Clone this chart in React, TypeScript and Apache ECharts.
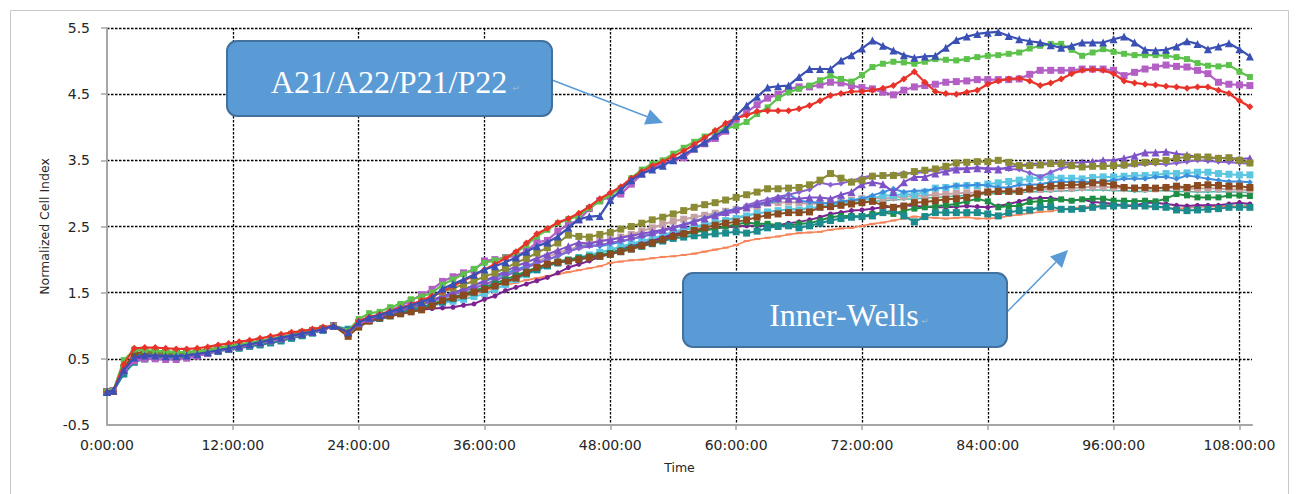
import React, { useEffect, useRef } from "react";
import * as echarts from "echarts";

// time in hours
const TIME_H = [0, 0.6, 1.6, 2.6, 3.6, 4.6, 5.6, 6.6, 7.6, 8.6, 9.6, 10.6, 11.6, 12.6, 13.6, 14.6, 15.6, 16.6, 17.6, 18.6, 19.6, 20.6, 21.6, 23,
  24, 25, 26, 27, 28, 29, 30, 31, 32, 33, 34, 35, 36, 37, 38, 39, 40, 41, 42, 43, 44, 45, 46, 47, 48, 49, 50, 51, 52, 53, 54, 55, 56, 57, 58, 59, 60,
  61, 62, 63, 64, 65, 66, 67, 68, 69, 70, 71, 72, 73, 74, 75, 76, 77, 78, 79, 80, 81, 82, 83, 84, 85, 86, 87, 88, 89, 90, 91, 92, 93, 94, 95, 96, 97, 98, 99, 100,
  101, 102, 103, 104, 105, 106, 107, 108, 109];

const X_LABELS = [0, 12, 24, 36, 48, 60, 72, 84, 96, 108];
const X_GRID = [12, 24, 36, 48, 60, 72, 84, 96, 108];
const Y_LABELS = [-0.5, 0.5, 1.5, 2.5, 3.5, 4.5, 5.5];
const Y_GRID = [0.5, 1.5, 2.5, 3.5, 4.5, 5.5];

const RED = [0, 0.01, 0.42, 0.66, 0.67, 0.67, 0.66, 0.65, 0.65, 0.66, 0.68, 0.71, 0.73, 0.76, 0.78, 0.81, 0.84, 0.87, 0.9, 0.92, 0.95, 0.98, 1.0,
  0.9,
  1.07, 1.13, 1.17, 1.22, 1.27, 1.32, 1.38, 1.45, 1.52, 1.6, 1.68, 1.76, 1.85, 1.93, 2.02, 2.12, 2.25, 2.39, 2.47, 2.56, 2.62, 2.7, 2.8, 2.92, 3.01, 3.1, 3.23, 3.33, 3.42, 3.48, 3.56, 3.64, 3.74, 3.84, 3.95, 4.06, 4.14,
  4.18, 4.24, 4.25, 4.25, 4.25, 4.28, 4.33, 4.40, 4.48, 4.51, 4.54, 4.54, 4.56, 4.59, 4.63, 4.73, 4.84, 4.68, 4.54, 4.51, 4.50, 4.53, 4.56, 4.65, 4.70, 4.73, 4.74, 4.70, 4.63, 4.67, 4.73, 4.81, 4.86, 4.87, 4.86, 4.81, 4.70, 4.67, 4.65, 4.64, 4.62, 4.61, 4.59, 4.61, 4.61, 4.56, 4.51, 4.40, 4.31];

const GREEN = [0, 0.02, 0.48, 0.64, 0.63, 0.62, 0.61, 0.6, 0.6, 0.61, 0.63, 0.66, 0.69, 0.72, 0.74, 0.77, 0.8, 0.83, 0.86, 0.89, 0.92, 0.96, 1.0,
  0.92,
  1.10, 1.19, 1.21, 1.28, 1.33, 1.40, 1.44, 1.5, 1.62, 1.7, 1.78, 1.86, 1.95, 1.99, 2.03, 2.1, 2.22, 2.35, 2.45, 2.55, 2.61, 2.66, 2.78, 2.88, 2.98, 3.08, 3.23, 3.36, 3.45, 3.5, 3.6, 3.69, 3.78, 3.86, 3.93, 3.98, 4.02,
  4.08, 4.20, 4.30, 4.44, 4.53, 4.58, 4.63, 4.71, 4.78, 4.73, 4.69, 4.79, 4.91, 4.96, 4.99, 4.98, 4.96, 4.99, 5.03, 5.02, 5.01, 5.03, 5.06, 5.08, 5.09, 5.11, 5.13, 5.19, 5.23, 5.26, 5.26, 5.17, 5.08, 5.13, 5.18, 5.14, 5.11, 5.09, 5.09, 5.09, 5.08, 5.06, 5.03, 4.97, 4.93, 4.92, 4.94, 4.84, 4.76];

const BLUE = [0, 0.02, 0.33, 0.52, 0.55, 0.55, 0.54, 0.54, 0.55, 0.57, 0.6, 0.63, 0.66, 0.69, 0.72, 0.75, 0.79, 0.82, 0.85, 0.88, 0.91, 0.95, 1.0,
  0.9,
  1.05, 1.12, 1.16, 1.21, 1.26, 1.31, 1.36, 1.42, 1.56, 1.63, 1.7, 1.77, 1.85, 1.9, 1.96, 2.03, 2.12, 2.2, 2.26, 2.35, 2.48, 2.61, 2.65, 2.66, 2.9, 3.05, 3.2, 3.3, 3.36, 3.42, 3.5, 3.58, 3.68, 3.77, 3.87, 3.97, 4.17,
  4.33, 4.46, 4.60, 4.62, 4.63, 4.76, 4.88, 4.88, 4.88, 5.01, 5.09, 5.19, 5.31, 5.23, 5.16, 5.09, 5.05, 5.07, 5.08, 5.20, 5.32, 5.37, 5.41, 5.43, 5.44, 5.38, 5.33, 5.30, 5.28, 5.24, 5.20, 5.23, 5.28, 5.28, 5.28, 5.33, 5.37, 5.28, 5.17, 5.16, 5.17, 5.22, 5.30, 5.26, 5.18, 5.22, 5.27, 5.18, 5.07];

const MAGENTA = [0, 0.02, 0.32, 0.47, 0.5, 0.5, 0.49, 0.49, 0.51, 0.54, 0.58, 0.62, 0.65, 0.68, 0.71, 0.74, 0.77, 0.8, 0.84, 0.87, 0.9, 0.94, 1.0,
  0.91,
  1.03, 1.1, 1.16, 1.23, 1.3, 1.38, 1.47, 1.55, 1.67, 1.74, 1.8, 1.84, 1.98, 2.0, 2.03, 2.06, 2.13, 2.26, 2.29, 2.43, 2.53, 2.6, 2.77, 2.89, 2.95, 2.99, 3.14, 3.29, 3.39, 3.45, 3.5, 3.54, 3.67, 3.75, 3.83, 3.94, 4.12,
  4.23, 4.34, 4.44, 4.50, 4.58, 4.61, 4.61, 4.64, 4.68, 4.67, 4.63, 4.60, 4.58, 4.53, 4.49, 4.56, 4.61, 4.63, 4.65, 4.68, 4.69, 4.70, 4.72, 4.72, 4.72, 4.72, 4.73, 4.80, 4.86, 4.86, 4.86, 4.86, 4.88, 4.88, 4.88, 4.86, 4.78, 4.83, 4.88, 4.91, 4.94, 4.92, 4.91, 4.86, 4.81, 4.68, 4.65, 4.64, 4.63];

const OLIVE = [0, 0.02, 0.35, 0.58, 0.6, 0.6, 0.59, 0.59, 0.6, 0.62, 0.64, 0.67, 0.69, 0.71, 0.74, 0.77, 0.8, 0.83, 0.87, 0.9, 0.93, 0.96, 1.0,
  0.88,
  1.05, 1.12, 1.17, 1.22, 1.26, 1.31, 1.37, 1.44, 1.51, 1.57, 1.62, 1.68, 1.74, 1.8, 1.87, 1.95, 2.02, 2.1, 2.18, 2.25, 2.37, 2.35, 2.34, 2.38, 2.41, 2.46, 2.5, 2.55, 2.6, 2.64, 2.69, 2.74, 2.79, 2.83, 2.86, 2.9, 2.94,
  2.98, 3.02, 3.07, 3.07, 3.08, 3.09, 3.13, 3.20, 3.30, 3.23, 3.17, 3.20, 3.26, 3.27, 3.27, 3.28, 3.33, 3.35, 3.37, 3.41, 3.46, 3.47, 3.48, 3.48, 3.50, 3.47, 3.42, 3.42, 3.43, 3.45, 3.45, 3.42, 3.40, 3.41, 3.41, 3.42, 3.43, 3.45, 3.47, 3.48, 3.50, 3.53, 3.55, 3.55, 3.55, 3.53, 3.54, 3.50, 3.46];

const VIOLET_TRI = [0, 0.02, 0.34, 0.53, 0.56, 0.56, 0.55, 0.55, 0.56, 0.58, 0.61, 0.64, 0.67, 0.7, 0.73, 0.76, 0.79, 0.82, 0.85, 0.88, 0.91, 0.95, 1.0,
  0.9,
  1.03, 1.09, 1.14, 1.19, 1.23, 1.28, 1.33, 1.39, 1.45, 1.5, 1.55, 1.61, 1.68, 1.75, 1.82, 1.9, 1.96, 2.02, 2.08, 2.14, 2.2, 2.26, 2.24, 2.28, 2.3, 2.33, 2.36, 2.39, 2.42, 2.45, 2.49, 2.53, 2.57, 2.62, 2.67, 2.72, 2.76,
  2.79, 2.84, 2.87, 2.93, 2.92, 2.92, 2.94, 2.94, 2.92, 2.98, 3.02, 3.14, 3.17, 3.14, 3.02, 3.17, 3.25, 3.25, 3.30, 3.33, 3.36, 3.37, 3.38, 3.37, 3.36, 3.40, 3.42, 3.45, 3.45, 3.46, 3.47, 3.46, 3.47, 3.48, 3.50, 3.50, 3.53, 3.57, 3.62, 3.62, 3.63, 3.60, 3.58, 3.55, 3.54, 3.53, 3.54, 3.52, 3.53];

const VIOLET_DIA = [0, 0.01, 0.31, 0.5, 0.54, 0.55, 0.54, 0.54, 0.55, 0.57, 0.6, 0.63, 0.66, 0.69, 0.72, 0.75, 0.78, 0.81, 0.84, 0.87, 0.9, 0.94, 1.0,
  0.9,
  1.02, 1.08, 1.13, 1.18, 1.22, 1.27, 1.32, 1.37, 1.42, 1.47, 1.52, 1.57, 1.62, 1.68, 1.75, 1.82, 1.88, 1.94, 2.0, 2.06, 2.12, 2.17, 2.2, 2.22, 2.25, 2.28, 2.31, 2.35, 2.38, 2.43, 2.48, 2.52, 2.57, 2.62, 2.66, 2.69, 2.73,
  2.82, 2.87, 2.91, 2.95, 2.98, 3.02, 3.06, 3.16, 3.13, 3.15, 3.19, 3.24, 3.27, 3.26, 3.29, 3.31, 3.30, 3.33, 3.35, 3.37, 3.38, 3.38, 3.39, 3.38, 3.38, 3.37, 3.36, 3.31, 3.25, 3.32, 3.38, 3.41, 3.40, 3.41, 3.42, 3.42, 3.41, 3.43, 3.44, 3.45, 3.44, 3.46, 3.48, 3.50, 3.49, 3.48, 3.47, 3.46, 3.45];

const LIGHT_BLUE = [0, 0.02, 0.3, 0.48, 0.52, 0.53, 0.52, 0.53, 0.54, 0.56, 0.59, 0.63, 0.66, 0.69, 0.72, 0.75, 0.78, 0.81, 0.84, 0.87, 0.9, 0.94, 1.0,
  0.92,
  1.02, 1.08, 1.12, 1.17, 1.22, 1.27, 1.32, 1.38, 1.44, 1.5, 1.55, 1.61, 1.67, 1.73, 1.79, 1.85, 1.9, 1.95, 2.0, 2.05, 2.12, 2.18, 2.22, 2.2, 2.23, 2.27, 2.31, 2.35, 2.39, 2.44, 2.48, 2.53, 2.58, 2.63, 2.68, 2.73, 2.77,
  2.79, 2.82, 2.86, 2.89, 2.99, 2.89, 2.87, 2.86, 2.84, 2.88, 2.89, 2.92, 2.97, 3.02, 3.07, 3.02, 3.04, 3.04, 3.07, 3.09, 3.12, 3.12, 3.13, 3.12, 3.09, 3.09, 3.13, 3.13, 3.14, 3.17, 3.18, 3.17, 3.18, 3.17, 3.18, 3.20, 3.22, 3.22, 3.22, 3.25, 3.25, 3.22, 3.27, 3.25, 3.22, 3.20, 3.18, 3.18, 3.17];

const CYAN = [0, 0.01, 0.28, 0.45, 0.5, 0.52, 0.52, 0.52, 0.53, 0.55, 0.58, 0.62, 0.65, 0.67, 0.69, 0.72, 0.75, 0.78, 0.82, 0.85, 0.89, 0.94, 1.0,
  0.95,
  1.05, 1.09, 1.13, 1.16, 1.2, 1.24, 1.28, 1.31, 1.34, 1.37, 1.4, 1.44, 1.48, 1.55, 1.62, 1.7, 1.77, 1.84, 1.9, 1.95, 1.99, 2.03, 2.07, 2.11, 2.15, 2.2, 2.24, 2.28, 2.32, 2.37, 2.42, 2.46, 2.5, 2.53, 2.56, 2.59, 2.62,
  2.66, 2.7, 2.72, 2.74, 2.76, 2.75, 2.77, 2.8, 2.82, 2.85, 2.88, 2.9, 2.92, 2.97, 2.97, 2.99, 2.98, 3.02, 3.08, 3.09, 3.11, 3.12, 3.12, 3.14, 3.16, 3.18, 3.20, 3.22, 3.24, 3.25, 3.23, 3.23, 3.22, 3.24, 3.25, 3.25, 3.26, 3.27, 3.27, 3.28, 3.30, 3.30, 3.31, 3.32, 3.32, 3.30, 3.29, 3.28, 3.28];

const BROWN = [0, 0.01, 0.36, 0.58, 0.61, 0.62, 0.61, 0.6, 0.6, 0.61, 0.63, 0.65, 0.68, 0.7, 0.72, 0.75, 0.78, 0.82, 0.85, 0.88, 0.91, 0.95, 1.0,
  0.84,
  0.98, 1.07, 1.12, 1.15, 1.18, 1.21, 1.24, 1.3, 1.38, 1.42, 1.46, 1.51, 1.55, 1.6, 1.66, 1.72, 1.8, 1.88, 1.93, 1.96, 1.98, 2.0, 2.03, 2.05, 2.08, 2.12, 2.16, 2.21, 2.25, 2.3, 2.35, 2.39, 2.44, 2.48, 2.52, 2.55, 2.57,
  2.60, 2.64, 2.67, 2.69, 2.71, 2.71, 2.72, 2.79, 2.80, 2.82, 2.84, 2.86, 2.88, 2.82, 2.79, 2.81, 2.86, 2.87, 2.89, 2.91, 2.92, 2.94, 2.99, 3.02, 3.03, 3.03, 3.03, 3.07, 3.09, 3.11, 3.12, 3.13, 3.13, 3.16, 3.16, 3.13, 3.09, 3.08, 3.09, 3.08, 3.09, 3.11, 3.09, 3.12, 3.13, 3.12, 3.11, 3.11, 3.09];

const ROSY = [0, 0.02, 0.33, 0.54, 0.57, 0.57, 0.56, 0.56, 0.57, 0.59, 0.62, 0.65, 0.68, 0.7, 0.73, 0.76, 0.79, 0.82, 0.85, 0.88, 0.91, 0.95, 1.0,
  0.9,
  1.02, 1.08, 1.13, 1.17, 1.22, 1.27, 1.32, 1.37, 1.42, 1.47, 1.52, 1.58, 1.63, 1.69, 1.76, 1.83, 1.9, 1.97, 2.04, 2.1, 2.15, 2.2, 2.25, 2.28, 2.3, 2.34, 2.38, 2.43, 2.48, 2.53, 2.58, 2.61, 2.64, 2.67, 2.7, 2.73, 2.76,
  2.78, 2.8, 2.85, 2.86, 2.87, 2.86, 2.84, 2.85, 2.86, 2.88, 2.9, 2.92, 2.93, 2.92, 2.94, 2.95, 2.96, 2.97, 2.98, 2.99, 3.0, 3.01, 3.01, 3.02, 3.03, 3.04, 3.05, 3.06, 3.06, 3.07, 3.08, 3.08, 3.09, 3.1, 3.1, 3.09, 3.08, 3.08, 3.07, 3.07, 3.08, 3.08, 3.07, 3.07, 3.08, 3.07, 3.06, 3.06, 3.05];

const LIGHT_TEAL = [0, 0.02, 0.32, 0.52, 0.55, 0.56, 0.55, 0.55, 0.56, 0.58, 0.61, 0.64, 0.67, 0.7, 0.72, 0.75, 0.78, 0.81, 0.84, 0.87, 0.9, 0.94, 1.0,
  0.93,
  1.03, 1.08, 1.12, 1.16, 1.2, 1.24, 1.28, 1.33, 1.38, 1.42, 1.46, 1.5, 1.55, 1.6, 1.66, 1.72, 1.78, 1.84, 1.9, 1.95, 1.99, 2.03, 2.07, 2.1, 2.14, 2.18, 2.22, 2.27, 2.31, 2.35, 2.4, 2.44, 2.48, 2.52, 2.56, 2.6, 2.64,
  2.67, 2.7, 2.72, 2.74, 2.76, 2.77, 2.78, 2.8, 2.82, 2.84, 2.85, 2.87, 2.88, 2.89, 2.9, 2.91, 2.92, 2.93, 2.94, 2.95, 2.96, 2.97, 2.98, 2.99, 3.0, 3.01, 3.01, 3.02, 3.03, 3.03, 3.04, 3.04, 3.05, 3.05, 3.05, 3.04, 3.04, 3.03, 3.03, 3.04, 3.04, 3.03, 3.03, 3.02, 3.02, 3.03, 3.02, 3.02, 3.01];

const DARK_GREEN = [0, 0.02, 0.34, 0.55, 0.58, 0.58, 0.57, 0.57, 0.58, 0.6, 0.62, 0.65, 0.68, 0.7, 0.73, 0.76, 0.79, 0.82, 0.85, 0.88, 0.91, 0.95, 1.0,
  0.91,
  1.0, 1.07, 1.12, 1.16, 1.2, 1.24, 1.28, 1.33, 1.38, 1.43, 1.48, 1.53, 1.58, 1.64, 1.7, 1.76, 1.82, 1.88, 1.93, 1.97, 2.0, 2.03, 2.05, 2.07, 2.1, 2.14, 2.18, 2.22, 2.26, 2.3, 2.35, 2.38, 2.41, 2.44, 2.47, 2.5, 2.53,
  2.56, 2.54, 2.54, 2.52, 2.51, 2.54, 2.55, 2.59, 2.64, 2.66, 2.66, 2.65, 2.69, 2.71, 2.69, 2.74, 2.77, 2.79, 2.81, 2.82, 2.84, 2.88, 2.92, 2.88, 2.79, 2.81, 2.81, 2.87, 2.88, 2.89, 2.91, 2.89, 2.91, 2.92, 2.92, 2.89, 2.89, 2.88, 2.89, 2.88, 2.92, 2.99, 2.97, 2.94, 2.94, 2.94, 2.97, 2.97, 2.96];

const DARK_PURPLE = [0, 0.02, 0.31, 0.5, 0.53, 0.54, 0.54, 0.54, 0.55, 0.57, 0.6, 0.63, 0.65, 0.67, 0.7, 0.73, 0.77, 0.8, 0.83, 0.87, 0.9, 0.94, 1.0,
  0.9,
  1.0, 1.06, 1.1, 1.14, 1.18, 1.21, 1.24, 1.26, 1.27, 1.28, 1.31, 1.33, 1.4, 1.45, 1.53, 1.58, 1.63, 1.68, 1.73, 1.8, 1.88, 1.93, 1.98, 2.04, 2.1, 2.15, 2.2, 2.24, 2.28, 2.33, 2.38, 2.41, 2.43, 2.45, 2.47, 2.49, 2.5,
  2.51, 2.51, 2.51, 2.52, 2.55, 2.57, 2.60, 2.64, 2.69, 2.71, 2.74, 2.75, 2.77, 2.79, 2.80, 2.82, 2.81, 2.80, 2.79, 2.79, 2.80, 2.81, 2.80, 2.79, 2.81, 2.84, 2.88, 2.92, 2.93, 2.93, 2.91, 2.89, 2.91, 2.87, 2.86, 2.84, 2.81, 2.81, 2.86, 2.86, 2.84, 2.82, 2.81, 2.82, 2.82, 2.82, 2.84, 2.86, 2.84];

const TEAL = [0, 0.01, 0.27, 0.45, 0.5, 0.52, 0.52, 0.52, 0.53, 0.55, 0.58, 0.61, 0.64, 0.66, 0.69, 0.71, 0.74, 0.77, 0.81, 0.85, 0.89, 0.93, 1.0,
  0.94,
  1.03, 1.08, 1.11, 1.15, 1.19, 1.23, 1.27, 1.31, 1.36, 1.41, 1.45, 1.5, 1.55, 1.61, 1.67, 1.73, 1.79, 1.85, 1.91, 1.95, 1.98, 2.01, 2.03, 2.05, 2.08, 2.12, 2.16, 2.2, 2.24, 2.28, 2.32, 2.34, 2.36, 2.37, 2.39, 2.4, 2.42,
  2.40, 2.43, 2.48, 2.50, 2.51, 2.48, 2.51, 2.55, 2.59, 2.62, 2.64, 2.65, 2.66, 2.71, 2.74, 2.66, 2.57, 2.65, 2.71, 2.71, 2.71, 2.71, 2.71, 2.69, 2.66, 2.71, 2.74, 2.75, 2.79, 2.80, 2.76, 2.76, 2.77, 2.79, 2.81, 2.81, 2.82, 2.81, 2.81, 2.80, 2.79, 2.75, 2.74, 2.75, 2.76, 2.77, 2.79, 2.79, 2.79];

const SALMON = [0, 0.01, 0.3, 0.5, 0.54, 0.55, 0.55, 0.55, 0.56, 0.58, 0.61, 0.64, 0.67, 0.69, 0.72, 0.75, 0.78, 0.81, 0.84, 0.87, 0.9, 0.94, 1.0,
  0.92,
  1.02, 1.06, 1.1, 1.14, 1.18, 1.22, 1.26, 1.3, 1.34, 1.38, 1.43, 1.48, 1.53, 1.57, 1.61, 1.65, 1.69, 1.72, 1.75, 1.78, 1.81, 1.84, 1.87, 1.9, 1.95, 1.97, 1.99, 2.0, 2.02, 2.04, 2.05, 2.07, 2.09, 2.12, 2.15, 2.18, 2.22,
  2.28, 2.31, 2.33, 2.35, 2.38, 2.40, 2.41, 2.42, 2.45, 2.47, 2.48, 2.51, 2.54, 2.56, 2.59, 2.62, 2.65, 2.64, 2.63, 2.62, 2.63, 2.64, 2.62, 2.62, 2.63, 2.66, 2.68, 2.7, 2.72, 2.73, 2.76, 2.78, 2.79, 2.8, 2.82, 2.83, 2.83, 2.82, 2.8, 2.79, 2.78, 2.77, 2.78, 2.79, 2.8, 2.8, 2.81, 2.81, 2.82];

// drawing order: first = bottom
const SERIES_DEFS: any[] = [
  { name: "S16", values: SALMON, color: "#F5845A", symbol: "rect", size: [6, 2], width: 1.6 },
  { name: "S15", values: LIGHT_TEAL, color: "#46B8A6", symbol: "circle", size: 3, width: 1.5 },
  { name: "S14", values: ROSY, color: "#C6A2A4", symbol: "rect", size: 7, width: 2 },
  { name: "S13", values: CYAN, color: "#5CC6E2", symbol: "rect", size: 7, width: 2 },
  { name: "S12", values: LIGHT_BLUE, color: "#3D8FDE", symbol: "diamond", size: 6, width: 2 },
  { name: "S11", values: VIOLET_DIA, color: "#8A63D2", symbol: "diamond", size: 6, width: 2 },
  { name: "S10", values: DARK_PURPLE, color: "#7B2390", symbol: "circle", size: 5, width: 2 },
  { name: "S9", values: DARK_GREEN, color: "#1F8E45", symbol: "rect", size: 6, width: 2 },
  { name: "S8", values: TEAL, color: "#1B8B8D", symbol: "rect", size: 7, width: 2 },
  { name: "S7", values: VIOLET_TRI, color: "#7D52C7", symbol: "triangle", size: 8, width: 2 },
  { name: "S6", values: OLIVE, color: "#8C8B35", symbol: "rect", size: 7, width: 2 },
  { name: "S5", values: BROWN, color: "#8A4B20", symbol: "rect", size: 7, width: 2 },
  { name: "S4", values: MAGENTA, color: "#B35FC5", symbol: "rect", size: 7, width: 2.2 },
  { name: "S3", values: GREEN, color: "#5DC24B", symbol: "rect", size: 6, width: 2.2 },
  { name: "S2", values: RED, color: "#E8332A", symbol: "diamond", size: 7, width: 2.2 },
  { name: "S1", values: BLUE, color: "#3A50B4", symbol: "triangle", size: 8, width: 2.2 },
];

const AXIS_GRAY = "#A6A6A6";
const TEXT_DARK = "#262626";
const GRID_LINE = { color: "#000000", type: [2.5, 1.5] as any, width: 1.3 };
const BOX_FILL = "#5B9BD5";
const BOX_STROKE = "#41719C";

export default function App() {
  const ref = useRef<HTMLDivElement>(null);
  useEffect(() => {
    if (!ref.current) return;
    const chart = echarts.init(ref.current, null, { renderer: "svg" });
    const option: any = {
      animation: false,
      backgroundColor: "#ffffff",
      grid: { left: 107, right: 44, top: 28, bottom: 69 },
      xAxis: {
        type: "value",
        min: 0,
        max: 109.2,
        name: "Time",
        nameLocation: "middle",
        nameGap: 36,
        nameTextStyle: { fontFamily: "DejaVu Sans", fontSize: 12.5, color: TEXT_DARK },
        axisLine: { show: true, onZero: false, lineStyle: { color: AXIS_GRAY, width: 2 } },
        axisTick: { show: true, length: 5, customValues: X_GRID, lineStyle: { color: AXIS_GRAY, width: 1.5 } },
        axisLabel: {
          customValues: X_LABELS,
          formatter: (v: number) => `${v}:00:00`,
          margin: 13,
          fontFamily: "DejaVu Sans",
          fontSize: 14,
          color: TEXT_DARK,
          showMaxLabel: true,
        },
        splitLine: { show: true, lineStyle: GRID_LINE },
      },
      yAxis: {
        type: "value",
        min: -0.5,
        max: 5.5,
        name: "Normalized Cell Index",
        nameLocation: "middle",
        nameGap: 56,
        nameTextStyle: { fontFamily: "DejaVu Sans", fontSize: 12.5, color: TEXT_DARK },
        axisLine: { show: true, onZero: false, lineStyle: { color: AXIS_GRAY, width: 2 } },
        axisTick: { show: true, length: 6, customValues: Y_GRID, lineStyle: { color: AXIS_GRAY, width: 1.5 } },
        axisLabel: {
          customValues: Y_LABELS,
          formatter: (v: number) => v.toFixed(1),
          margin: 17,
          fontFamily: "DejaVu Sans",
          fontSize: 14,
          color: TEXT_DARK,
        },
        splitLine: { show: true, lineStyle: GRID_LINE },
      },
      series: SERIES_DEFS.map((d, idx) => ({
        type: "line",
        name: d.name,
        data: TIME_H.map((t, i) => [t, d.values[i]]),
        symbol: d.symbol,
        symbolSize: d.size,
        showSymbol: true,
        lineStyle: { color: d.color, width: d.width },
        itemStyle: { color: d.color, borderWidth: 0 },
        z: 2 + idx * 0.01,
        silent: true,
      })),
      graphic: [
        {
          type: "rect",
          z: -10,
          silent: true,
          shape: { x: 10.5, y: 10.5, width: 1278, height: 500 },
          style: { fill: "none", stroke: "#C8C8C8", lineWidth: 1 },
        },
        {
          type: "line",
          z: 100,
          shape: { x1: 552, y1: 80, x2: 648, y2: 117 },
          style: { stroke: BOX_FILL, lineWidth: 1.5 },
        },
        {
          type: "polygon",
          z: 100,
          shape: { points: [[663, 123], [644, 124.5], [650, 109.5]] },
          style: { fill: BOX_FILL },
        },
        {
          type: "rect",
          z: 100,
          shape: { x: 227, y: 41, width: 325, height: 75, r: 10 },
          style: { fill: BOX_FILL, stroke: BOX_STROKE, lineWidth: 2 },
        },
        {
          type: "text",
          z: 101,
          x: 389,
          y: 82,
          style: {
            text: "A21/A22/P21/P22",
            fill: "#ffffff",
            fontSize: 32,
            fontFamily: "Liberation Serif",
            align: "center",
            verticalAlign: "middle",
            textAlign: "center",
            textVerticalAlign: "middle",
          },
        },
        {
          type: "text",
          z: 101,
          x: 516,
          y: 88,
          style: { text: "↵", fill: "#9DB5D0", fontSize: 9, fontFamily: "DejaVu Sans", align: "center", verticalAlign: "middle", textAlign: "center", textVerticalAlign: "middle" },
        },
        {
          type: "line",
          z: 100,
          shape: { x1: 1007, y1: 312, x2: 1056, y2: 262 },
          style: { stroke: BOX_FILL, lineWidth: 1.5 },
        },
        {
          type: "polygon",
          z: 100,
          shape: { points: [[1068, 250], [1062, 268], [1050, 256.5]] },
          style: { fill: BOX_FILL },
        },
        {
          type: "rect",
          z: 100,
          shape: { x: 683, y: 273, width: 324, height: 74, r: 10 },
          style: { fill: BOX_FILL, stroke: BOX_STROKE, lineWidth: 2 },
        },
        {
          type: "text",
          z: 101,
          x: 844,
          y: 315,
          style: {
            text: "Inner-Wells",
            fill: "#ffffff",
            fontSize: 32,
            fontFamily: "Liberation Serif",
            align: "center",
            verticalAlign: "middle",
            textAlign: "center",
            textVerticalAlign: "middle",
          },
        },
        {
          type: "text",
          z: 101,
          x: 925,
          y: 321,
          style: { text: "↵", fill: "#9DB5D0", fontSize: 9, fontFamily: "DejaVu Sans", align: "center", verticalAlign: "middle", textAlign: "center", textVerticalAlign: "middle" },
        },
      ],
    };
    chart.setOption(option);
    return () => chart.dispose();
  }, []);
  return (
    <div
      ref={ref}
      style={{ position: "absolute", left: 0, top: 0, width: 1296, height: 494, background: "#ffffff" }}
    />
  );
}
